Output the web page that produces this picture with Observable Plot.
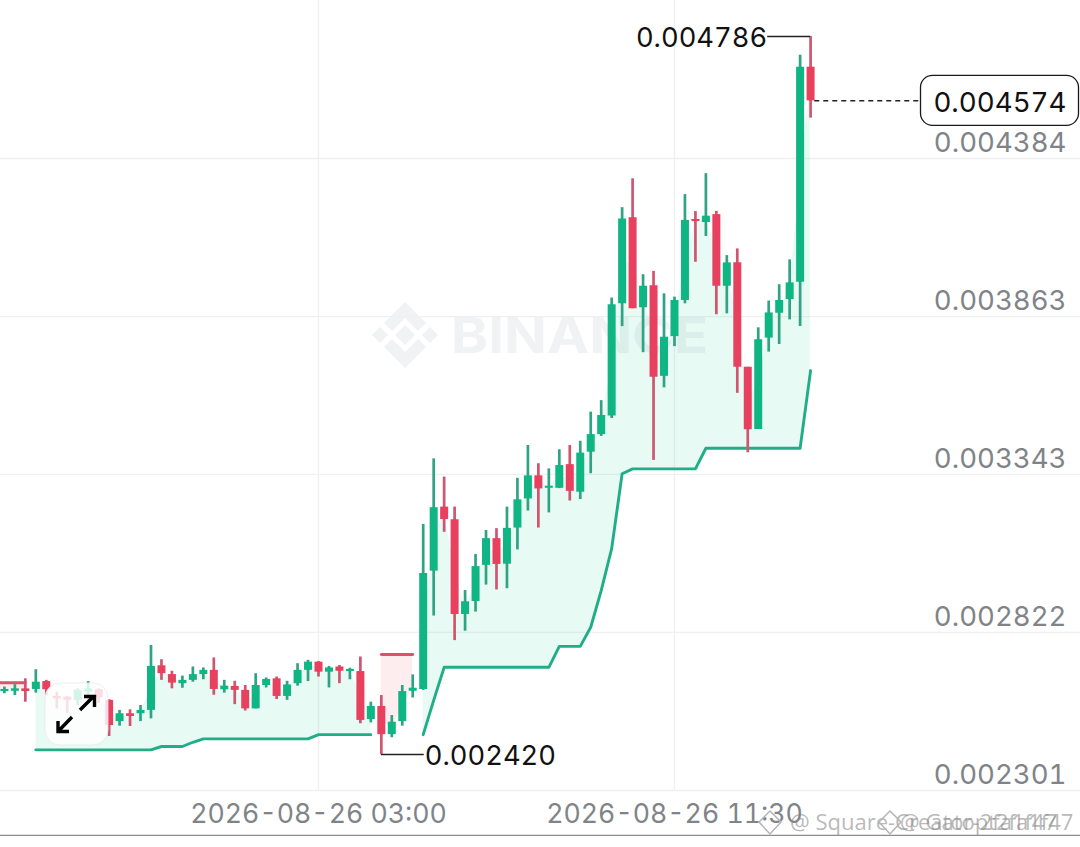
<!DOCTYPE html>
<html><head><meta charset="utf-8">
<script src="https://cdn.jsdelivr.net/npm/d3@7"></script>
<script src="https://cdn.jsdelivr.net/npm/@observablehq/plot@0.6"></script>
<style>
html,body{margin:0;padding:0;background:#fff;}
#wrap{position:relative;width:1080px;height:847px;overflow:hidden;font-family:Inter,sans-serif;}
#under,#over{position:absolute;left:0;top:0;width:1080px;height:847px;}
#chart{position:absolute;left:0;top:0;}
#chart svg{background:transparent;display:block;}
</style></head><body>
<div id="wrap">
<svg id="under" viewBox="0 0 1080 847">
  <g fill="#f1f2f3" transform="translate(405,335)">
    <polygon points="0,-10 10,0 0,10 -10,0"/>
    <polygon points="-25,-8 -17,0 -25,8 -33,0"/>
    <polygon points="25,-8 33,0 25,8 17,0"/>
    <polygon points="0,-33 21,-12 13,-4 0,-17 -13,-4 -21,-12"/>
    <polygon points="0,33 21,12 13,4 0,17 -13,4 -21,12"/>
  </g>
  <text x="451" y="353" font-family="Inter" font-weight="700" font-size="50" fill="#f1f2f3" textLength="257" lengthAdjust="spacingAndGlyphs">BINANCE</text>
</svg>
<div id="chart"></div>
<svg id="over" viewBox="0 0 1080 847">
  <rect x="45" y="683" width="63" height="62" rx="15" fill="#fff" fill-opacity="0.82" stroke="#e8e8e8" stroke-opacity="0.8"/>
  <g stroke="#000" stroke-width="3.4" fill="none">
    <path d="M80,710 L94,696 M84,696.5 H94.5 V707"/>
    <path d="M72,717 L58,731.5 M58,721 V731.5 H69"/>
  </g>
  <g font-family="Open Sans" font-size="22" fill="#8a8a8a" fill-opacity="0.6">
    <text x="790" y="830">@ Square-Creator-2fa1f47</text>
    <text x="900" y="830">@ Gatopt2fa1f47</text>
  </g>
  <g fill="none" stroke="#b5b5b5" stroke-width="1.5">
    <path d="M770,811 L781,822 L770,834 L759,822 Z"/>
    <path d="M890,811 L901,822 L890,834 L879,822 Z"/>
  </g>
</svg>
</div>
<script>
const unit = 1e-6; // all price arrays are in millionths
const firstBar = "2026-08-25T19:15:00Z";
const barMinutes = 15;
const opens = [2636,2627,2628,2636,2634,2660,2611,2609,2598,2625,2633,2598,2528,2554,2554,2565,2712,2683,2653,2664,2683,2697,2633,2644,2631,2570,2647,2669,2611,2653,2697,2724,2691,2708,2693,2693,2535,2578,2485,2528,2628,
2634,3024,3235,3193,2881,2924,3043,3131,3047,3166,3262,3338,3297,3297,3375,3284,3416,3474,3535,3905,4189,3892,3965,3666,3797,3916,4183,4173,4199,3963,4040,3696,3491,3792,3874,3919,3976,4685];
const highs = [2642,2642,2650,2669,2699,2664,2625,2611,2636,2660,2636,2600,2565,2567,2581,2779,2732,2694,2678,2708,2705,2738,2664,2661,2647,2686,2672,2675,2661,2719,2730,2726,2710,2713,2704,2741,2592,2614,2548,2647,2682,
3178,3394,3334,3235,2960,3079,3158,3164,3235,3330,3438,3378,3361,3424,3438,3452,3548,3586,3924,4222,4317,4001,4012,3938,3927,4265,4209,4334,4210,4064,4086,3696,3826,3914,3968,4050,4724,4786];
const lows = [2620,2620,2614,2592,2622,2614,2570,2554,2581,2598,2587,2479,2513,2512,2528,2537,2664,2636,2638,2658,2666,2615,2622,2584,2563,2570,2639,2601,2598,2645,2660,2675,2639,2653,2666,2521,2524,2420,2475,2513,2606,
2631,2876,3152,2795,2826,2889,2978,2962,2966,3094,3222,3166,3216,3296,3255,3260,3345,3468,3527,3830,3889,3744,3389,3628,3764,3905,4042,4127,3869,3872,3610,3414,3491,3746,3771,3852,3830,4517];
const closes = [2628,2634,2636,2627,2658,2633,2603,2598,2631,2636,2606,2515,2554,2545,2565,2710,2686,2655,2664,2683,2697,2634,2645,2631,2570,2647,2667,2611,2649,2697,2724,2691,2705,2694,2700,2532,2578,2485,2526,2627,2638,
3016,3233,3194,2881,2923,3039,3131,3046,3165,3259,3338,3295,3304,3372,3287,3413,3474,3537,3902,4185,3889,3963,3663,3795,3916,4180,4176,4194,3963,4040,3696,3490,3787,3875,3916,3974,4685,4574];
const _ = null;
const greenTrend = [_,_,_,_,
2435,2435,2435,2435,2435,2435,2435,2435,2435,2435,2435,2435,2446,2446,2446,2460,2471,2471,2471,2471,2471,2471,2471,2471,2471,2471,2471,2485,2485,2485,2485,2485,2485,
_,_,_,_,
2485,2598,2707,2707,2707,2707,2707,2707,2707,2707,2707,2707,2707,2776,2776,2776,2839,2960,3098,3345,3361,3361,3361,3361,3361,3361,3361,3429,3429,3429,3429,3429,3429,3429,3429,3429,3429,3685];
const redTrend = [2656,2656,2656,2656,
_,_,_,_,_,_,_,_,_,_,_,_,_,_,_,_,_,_,_,_,_,_,_,_,_,_,_,_,_,_,_,_,_,
2749,2749,2749,2749,
_,_,_,_,_,_,_,_,_,_,_,_,_,_,_,_,_,_,_,_,_,_,_,_,_,_,_,_,_,_,_,_,_,_,_,_,_,_];
const yTicks = [0.004384,0.003863,0.003343,0.002822,0.002301];
const xTicks = ["2026-08-26T03:00:00Z","2026-08-26T11:30:00Z"].map(s=>new Date(s));
const highLabel = 0.004786, lowLabel = 0.002420, lastPrice = 0.004574;
const axisFloor = 0.002153;
const xDomain = ["2026-08-25T19:24:24Z","2026-08-26T21:11:42Z"].map(s=>new Date(s));
const yDomain = [0.002113134,0.004904753];

const GREEN="#0fb583", RED="#e8405f", GREENW="#2fa383", REDW="#cf5570", GRID="#eff0f1", AXIS="#808488";
const num = v => v==null ? null : v*unit;
const tAt = k => d3.utcMinute.offset(new Date(firstBar), barMinutes*k);
const bars = opens.map((o,k)=>({
  t:tAt(k), o:num(o), h:num(highs[k]), l:num(lows[k]), c:num(closes[k]),
  mid:(o+closes[k])/2*unit, g:num(greenTrend[k]), r:num(redTrend[k]), up:closes[k]>=o
}));
const lastBar = bars[bars.length-1];
const hiBar = bars.find(b=>Math.abs(b.h-highLabel)<1e-9);
const loBar = bars.find(b=>Math.abs(b.l-lowLabel)<1e-9);
const offsetBars = (d,n)=>new Date(+d + n*barMinutes*60000);
const fmtP = d3.format(".6f");
const FONT="Inter";
const labelStyle = {fontSize:27.3,fill:"#111",dy:2,fontVariant:"tabular-nums"};

const priceBox = (index,scales)=>{
  const y=scales.y(lastPrice);
  return d3.create("svg:rect").attr("x",920.5).attr("y",y-25).attr("width",158).attr("height",50)
    .attr("rx",12).attr("fill","#fff").attr("stroke","#1a1a1a").attr("stroke-width",1.3).node();
};

const plot = Plot.plot({
  width:1080,height:847,margin:0,
  style:{background:"transparent",fontFamily:FONT},
  x:{type:"utc",domain:xDomain,range:[0,1080]},
  y:{type:"linear",domain:yDomain,range:[847,0]},
  marks:[
    Plot.ruleY(yTicks,{stroke:GRID,strokeWidth:1.4,strokeDasharray:d=>d===0.003863?"4,2":null}),
    Plot.ruleX(xTicks,{y1:yDomain[1],y2:yTicks[4],stroke:GRID,strokeWidth:1.4}),
    Plot.ruleY([axisFloor],{stroke:"#8c8c8c",strokeWidth:1.2}),
    Plot.areaY(bars,{x:"t",y1:"g",y2:"mid",fill:"#00c880",fillOpacity:0.09}),
    Plot.areaY(bars,{x:"t",y1:"r",y2:"mid",fill:"#f0384f",fillOpacity:0.09}),
    Plot.line(bars,{x:"t",y:"g",stroke:"#1fae88",strokeWidth:2.9}),
    Plot.line(bars,{x:"t",y:"r",stroke:"#d9536b",strokeWidth:2.9}),
    Plot.ruleX(bars,{x:"t",y1:"l",y2:"h",stroke:d=>d.up?GREENW:REDW,strokeWidth:2.7}),
    Plot.ruleX(bars,{x:"t",y1:"o",y2:"c",stroke:d=>d.up?GREEN:RED,strokeWidth:8}),
    Plot.ruleY([highLabel],{x1:hiBar.t,x2:offsetBars(hiBar.t,-4.1),stroke:"#222",strokeWidth:1.5}),
    Plot.ruleY([lowLabel],{x1:loBar.t,x2:offsetBars(loBar.t,4.1),stroke:"#222",strokeWidth:1.5}),
    Plot.ruleY([lastPrice],{x1:offsetBars(lastBar.t,0.4),x2:offsetBars(lastBar.t,10.5),stroke:"#222",strokeWidth:1.5,strokeDasharray:"5,4"}),
    Plot.text([highLabel],{x:offsetBars(hiBar.t,-4.15),y:d=>d,text:fmtP,textAnchor:"end",...labelStyle}),
    Plot.text([lowLabel],{x:offsetBars(loBar.t,4.15),y:d=>d,text:fmtP,textAnchor:"start",...labelStyle}),
    priceBox,
    Plot.text([lastPrice],{y:d=>d,frameAnchor:"right",dx:-14,text:fmtP,textAnchor:"end",...labelStyle,fontSize:27.7}),
    Plot.axisY(yTicks,{anchor:"right",tickSize:0,tickPadding:0,dx:-14,dy:-15,textAnchor:"end",fontSize:27.6,fill:AXIS,label:null,tickFormat:fmtP}),
    Plot.axisX(xTicks,{anchor:"bottom",tickSize:0,tickPadding:0,dy:-43,fontSize:26.7,fill:AXIS,label:null,tickFormat:d3.utcFormat("%Y-%m-%d %H:%M")})
  ]
});
document.getElementById("chart").appendChild(plot);
</script>
</body></html>
